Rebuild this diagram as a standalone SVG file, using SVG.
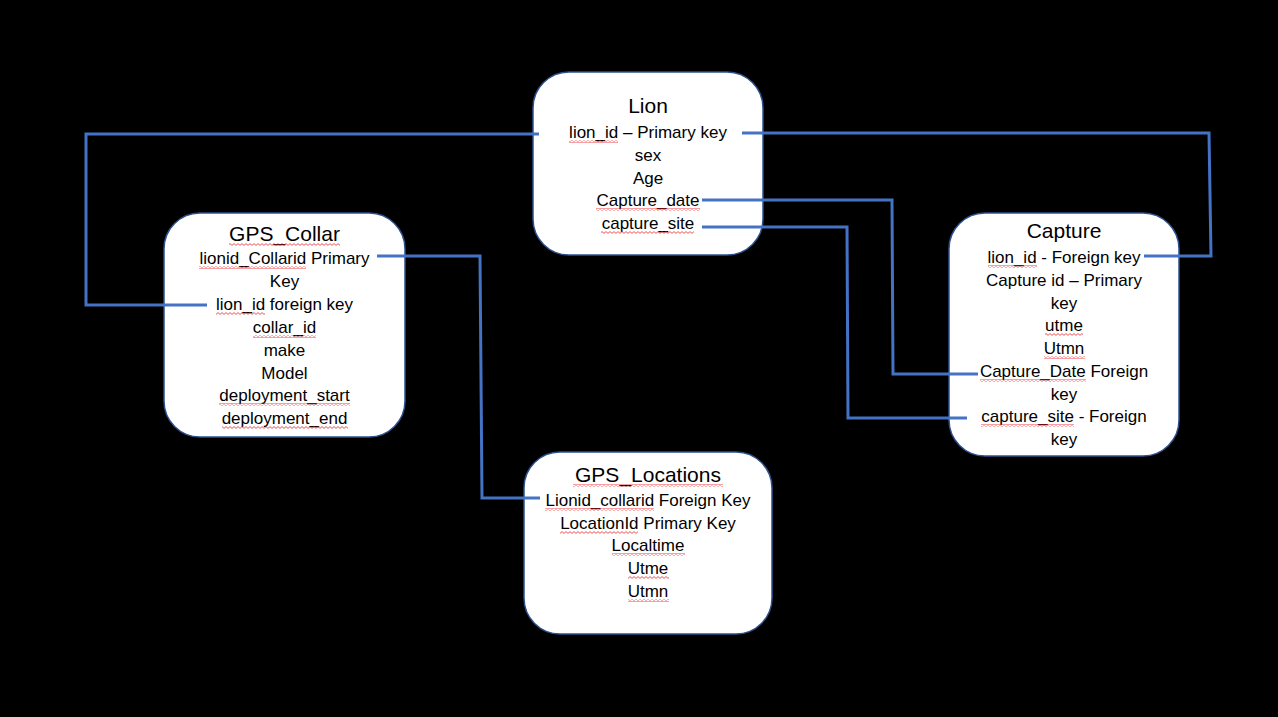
<svg xmlns="http://www.w3.org/2000/svg" width="1278" height="717" viewBox="0 0 1278 717">
<defs>
<pattern id="squig" patternUnits="userSpaceOnUse" width="4" height="3" x="0" y="0">
<path d="M0,2.4 L2,0.6 L4,2.4" fill="none" stroke="#e8262c" stroke-width="0.8"/>
</pattern>
</defs>
<style>
.box{fill:#ffffff;stroke:#2f528f;stroke-width:1.5}
.title{font-family:"Liberation Sans",Arial,sans-serif;font-size:21px;fill:#000;text-anchor:middle}
.t{font-family:"Liberation Sans",Arial,sans-serif;font-size:17px;fill:#000;text-anchor:middle}
.sq{fill:url(#squig)}
.conn{fill:none;stroke:#4472c4;stroke-width:3}
</style>
<rect width="1278" height="717" fill="#000000"/>

<g id="lion">
<rect class="box" x="533" y="72" width="230" height="183" rx="36" ry="36"/>
<text class="title" x="648" y="113">Lion</text>
<text class="t" x="648" y="138">lion_id – Primary key</text>
<text class="t" x="648" y="161">sex</text>
<text class="t" x="648" y="184">Age</text>
<text class="t" x="648" y="206">Capture_date</text>
<text class="t" x="648" y="229">capture_site</text>
<rect class="sq" x="569" y="140" width="49" height="3"/>
<rect class="sq" x="596" y="208" width="104" height="3"/>
<rect class="sq" x="601" y="231" width="93" height="3"/>
</g>

<g id="gps_collar">
<rect class="box" x="164" y="213" width="241" height="224" rx="36" ry="36"/>
<text class="title" x="284.5" y="241">GPS_Collar</text>
<text class="t" x="284.5" y="264">lionid_Collarid Primary</text>
<text class="t" x="284.5" y="287">Key</text>
<text class="t" x="284.5" y="310">lion_id foreign key</text>
<text class="t" x="284.5" y="333">collar_id</text>
<text class="t" x="284.5" y="356">make</text>
<text class="t" x="284.5" y="379">Model</text>
<text class="t" x="284.5" y="401">deployment_start</text>
<text class="t" x="284.5" y="424">deployment_end</text>
<rect class="sq" x="229" y="243" width="111" height="3"/>
<rect class="sq" x="199" y="266" width="107" height="3"/>
<rect class="sq" x="216" y="312" width="49" height="3"/>
<rect class="sq" x="253" y="335" width="63" height="3"/>
<rect class="sq" x="219" y="403" width="131" height="3"/>
<rect class="sq" x="222" y="426" width="126" height="3"/>
</g>

<g id="capture">
<rect class="box" x="949" y="213" width="230" height="243" rx="36" ry="36"/>
<text class="title" x="1064" y="238">Capture</text>
<text class="t" x="1064" y="263">lion_id - Foreign key</text>
<text class="t" x="1064" y="286">Capture id – Primary</text>
<text class="t" x="1064" y="309">key</text>
<text class="t" x="1064" y="331">utme</text>
<text class="t" x="1064" y="354">Utmn</text>
<text class="t" x="1064" y="377">Capture_Date Foreign</text>
<text class="t" x="1064" y="400">key</text>
<text class="t" x="1064" y="422">capture_site - Foreign</text>
<text class="t" x="1064" y="445">key</text>
<rect class="sq" x="988" y="265" width="49" height="3"/>
<rect class="sq" x="1045" y="333" width="38" height="3"/>
<rect class="sq" x="1044" y="356" width="41" height="3"/>
<rect class="sq" x="980" y="379" width="106" height="3"/>
<rect class="sq" x="981" y="424" width="93" height="3"/>
</g>

<g id="gps_locations">
<rect class="box" x="524" y="452" width="248" height="182" rx="36" ry="36"/>
<text class="title" x="648" y="482">GPS_Locations</text>
<text class="t" x="648" y="506">Lionid_collarid Foreign Key</text>
<text class="t" x="648" y="529">LocationId Primary Key</text>
<text class="t" x="648" y="551">Localtime</text>
<text class="t" x="648" y="574">Utme</text>
<text class="t" x="648" y="597">Utmn</text>
<rect class="sq" x="573" y="484" width="150" height="3"/>
<rect class="sq" x="545" y="508" width="109" height="3"/>
<rect class="sq" x="560" y="531" width="78" height="3"/>
<rect class="sq" x="612" y="553" width="73" height="3"/>
<rect class="sq" x="628" y="576" width="41" height="3"/>
<rect class="sq" x="628" y="599" width="41" height="3"/>
</g>

<g id="connectors">
<polyline class="conn" points="539,134 86,134 86,305 207,305"/>
<polyline class="conn" points="742,133 1209,133 1211,256 1144,256"/>
<polyline class="conn" points="377,256 480,256 482,498 540,498"/>
<polyline class="conn" points="702,200 892,200 893,374 978,374"/>
<polyline class="conn" points="702,227 847,227 848,418 967,418"/>
</g>
</svg>
